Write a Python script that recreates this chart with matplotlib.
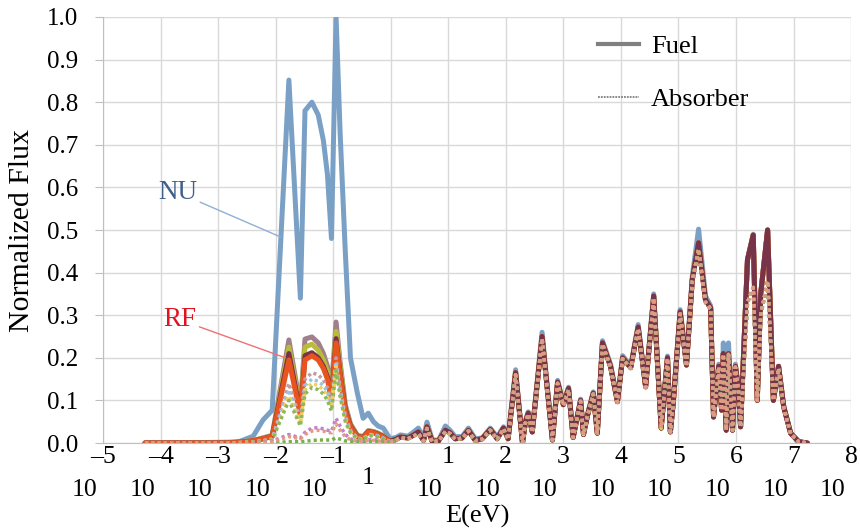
import matplotlib
matplotlib.use("Agg")
import matplotlib.pyplot as plt
from matplotlib.lines import Line2D

plt.rcParams['font.family'] = ['Liberation Serif', 'DejaVu Serif']

# log10(E) grid, thermal part and epithermal/fast part
E_THERMAL = [-4.27, -3.31, -2.79, -2.62, -2.39, -2.22, -2.06, -1.77, -1.57, -1.49,
             -1.37, -1.26, -1.17, -1.10, -1.03, -0.95, -0.88, -0.79, -0.70, -0.58,
             -0.48, -0.39, -0.30, -0.22, -0.13, -0.01]
E_FAST = [0.08, 0.17, 0.30, 0.39, 0.48, 0.57, 0.63, 0.72, 0.83, 0.95,
          1.03, 1.12, 1.24, 1.35, 1.47, 1.59, 1.73, 1.85, 1.96, 2.04,
          2.17, 2.29, 2.34, 2.39, 2.46, 2.63, 2.81, 2.90, 3.00, 3.09,
          3.17, 3.30, 3.35, 3.42, 3.52, 3.59, 3.68, 3.82, 3.94, 4.03,
          4.17, 4.30, 4.43, 4.57, 4.70, 4.81, 4.86, 4.91, 5.03, 5.14,
          5.24, 5.35, 5.47, 5.56, 5.61, 5.70, 5.75, 5.78, 5.83, 5.87,
          5.94, 5.99, 6.04, 6.08, 6.20, 6.30, 6.37, 6.43, 6.55, 6.65,
          6.74, 6.83, 6.95, 7.09, 7.24]

# NU (fuel)
NU_THERMAL = [0.0, 0.001, 0.002, 0.004, 0.016, 0.054, 0.077, 0.852, 0.34, 0.78,
              0.80, 0.77, 0.71, 0.63, 0.48, 1.0, 0.73, 0.45, 0.2, 0.117,
              0.058, 0.07, 0.05, 0.04, 0.035, 0.01]
NU_FAST = [0.012, 0.019, 0.016, 0.025, 0.035, 0.012, 0.049, 0.008, 0.006, 0.04,
           0.03, 0.015, 0.015, 0.035, 0.01, 0.012, 0.035, 0.014, 0.038, 0.014,
           0.172, 0.002, 0.052, 0.073, 0.028, 0.26, 0.008, 0.147, 0.094, 0.131,
           0.014, 0.103, 0.022, 0.068, 0.12, 0.025, 0.24, 0.185, 0.1, 0.205,
           0.18, 0.278, 0.136, 0.35, 0.037, 0.204, 0.028, 0.097, 0.313, 0.188,
           0.39, 0.502, 0.345, 0.322, 0.064, 0.185, 0.08, 0.235, 0.032, 0.235,
           0.032, 0.185, 0.133, 0.04, 0.432, 0.49, 0.1, 0.352, 0.5, 0.1,
           0.18, 0.085, 0.023, 0.003, 0.0]

# RF fuel curves, thermal part
RF_MAUVE = [0, 0, 0, 0.002, 0.006, 0.012, 0.018, 0.242, 0.085, 0.244,
            0.249, 0.235, 0.21, 0.18, 0.125, 0.284, 0.19, 0.09, 0.045, 0.018,
            0.015, 0.029, 0.027, 0.023, 0.017, 0.005]
RF_OLIVE = [0, 0, 0, 0.002, 0.006, 0.011, 0.017, 0.225, 0.078, 0.225,
            0.232, 0.218, 0.195, 0.168, 0.115, 0.262, 0.18, 0.085, 0.042, 0.017,
            0.014, 0.028, 0.026, 0.022, 0.016, 0.004]
RF_ORANGE = [0, 0, 0, 0.002, 0.005, 0.01, 0.015, 0.195, 0.065, 0.195,
             0.205, 0.195, 0.175, 0.15, 0.1, 0.235, 0.16, 0.075, 0.038, 0.015,
             0.012, 0.026, 0.024, 0.02, 0.014, 0.003]
RF_PLUM = [0, 0, 0, 0.002, 0.005, 0.01, 0.016, 0.21, 0.07, 0.205,
           0.212, 0.2, 0.18, 0.155, 0.105, 0.245, 0.165, 0.08, 0.04, 0.016,
           0.013, 0.027, 0.025, 0.021, 0.015, 0.004]
# shared fast part of the RF fuel curves
RF_FAST = [0.008, 0.014, 0.012, 0.018, 0.026, 0.006, 0.038, 0.004, 0.005, 0.03,
           0.024, 0.01, 0.012, 0.03, 0.006, 0.01, 0.032, 0.01, 0.035, 0.01,
           0.165, 0.0, 0.049, 0.07, 0.026, 0.25, 0.007, 0.143, 0.09, 0.128,
           0.013, 0.1, 0.02, 0.065, 0.117, 0.023, 0.235, 0.18, 0.097, 0.2,
           0.177, 0.272, 0.132, 0.345, 0.035, 0.2, 0.026, 0.094, 0.308, 0.183,
           0.383, 0.47, 0.336, 0.317, 0.061, 0.18, 0.077, 0.21, 0.03, 0.21,
           0.03, 0.18, 0.13, 0.038, 0.43, 0.488, 0.1, 0.35, 0.5, 0.1,
           0.18, 0.085, 0.023, 0.003, 0.0]

# absorber curves, thermal part
AB_MAUVE = [0, 0, 0, 0.001, 0.003, 0.006, 0.01, 0.14, 0.055, 0.15,
            0.165, 0.16, 0.148, 0.13, 0.1, 0.2, 0.13, 0.065, 0.03, 0.012,
            0.01, 0.02, 0.02, 0.017, 0.012, 0.003]
AB_BLUE = [0, 0, 0, 0.001, 0.003, 0.005, 0.009, 0.125, 0.05, 0.135,
           0.15, 0.145, 0.135, 0.12, 0.09, 0.19, 0.12, 0.06, 0.028, 0.011,
           0.009, 0.019, 0.019, 0.016, 0.011, 0.003]
AB_YELLOW = [0, 0, 0, 0.001, 0.002, 0.005, 0.008, 0.11, 0.045, 0.125,
             0.14, 0.135, 0.125, 0.11, 0.085, 0.18, 0.115, 0.055, 0.026, 0.01,
             0.008, 0.018, 0.018, 0.015, 0.01, 0.003]
AB_GREEN = [0, 0, 0, 0.001, 0.002, 0.004, 0.007, 0.1, 0.04, 0.115,
            0.13, 0.125, 0.115, 0.1, 0.075, 0.17, 0.11, 0.05, 0.024, 0.01,
            0.008, 0.017, 0.017, 0.014, 0.01, 0.002]
AB_MAGENTA = [0, 0, 0, 0, 0.001, 0.002, 0.004, 0.02, 0.012, 0.025,
              0.035, 0.036, 0.033, 0.03, 0.028, 0.058, 0.04, 0.02, 0.01, 0.005,
              0.004, 0.008, 0.008, 0.007, 0.005, 0.001]
AB_LOWGREEN = [0, 0, 0, 0, 0, 0.001, 0.001, 0.003, 0.003, 0.004,
               0.006, 0.007, 0.007, 0.007, 0.007, 0.012, 0.009, 0.005, 0.003, 0.002,
               0.002, 0.003, 0.003, 0.003, 0.002, 0.001]
AB_PEACH = [0, 0, 0, 0, 0.001, 0.001, 0.003, 0.015, 0.01, 0.02,
            0.028, 0.03, 0.028, 0.025, 0.024, 0.045, 0.03, 0.015, 0.008, 0.004,
            0.003, 0.006, 0.006, 0.005, 0.004, 0.001]
# shared fast part of the absorber curves
AB_FAST = [0.006, 0.012, 0.01, 0.016, 0.022, 0.005, 0.034, 0.003, 0.004, 0.027,
           0.022, 0.009, 0.011, 0.028, 0.005, 0.009, 0.03, 0.009, 0.033, 0.009,
           0.16, 0.0, 0.047, 0.068, 0.025, 0.245, 0.007, 0.14, 0.088, 0.125,
           0.013, 0.098, 0.02, 0.064, 0.115, 0.023, 0.232, 0.178, 0.096, 0.198,
           0.175, 0.268, 0.13, 0.34, 0.035, 0.198, 0.026, 0.093, 0.303, 0.18,
           0.378, 0.455, 0.33, 0.315, 0.061, 0.178, 0.077, 0.208, 0.03, 0.208,
           0.03, 0.178, 0.128, 0.038, 0.33, 0.365, 0.1, 0.3, 0.38, 0.1,
           0.175, 0.083, 0.022, 0.003, 0.0]

# (thermal, fast, colour, zorder thermal part, zorder fast part)
fuel_series = [
    (NU_THERMAL, NU_FAST, '#7aa0c6', 2.0, 2.0),
    (RF_MAUVE, RF_FAST, '#a0808a', 2.1, 2.1),
    (RF_OLIVE, RF_FAST, '#bbbb3a', 2.2, 2.2),
    (RF_PLUM, RF_FAST, '#763349', 2.3, 2.5),
    (RF_ORANGE, RF_FAST, '#e8531f', 2.4, 2.3),
]
absorber_series = [
    (AB_MAUVE, '#c49a9c'),
    (AB_BLUE, '#9fc2e2'),
    (AB_YELLOW, '#f0cf5a'),
    (AB_GREEN, '#8cb85a'),
    (AB_MAGENTA, '#c27fd0'),
    (AB_LOWGREEN, '#77b04a'),
    (AB_PEACH, '#e29a84'),
]

fig = plt.figure(figsize=(8.6, 5.31), dpi=100, facecolor='white')
ax = fig.add_axes([0.1198, 0.1657, 0.8698, 0.8023])

e_th = [10 ** v for v in E_THERMAL + E_FAST[:1]]
e_fa = [10 ** v for v in E_THERMAL[-1:] + E_FAST]
for th, fa, col, z_th, z_fa in fuel_series:
    # thermal and fast parts stack differently in the original chart
    ax.plot(e_th, th + fa[:1], color=col, lw=3.6, zorder=z_th, solid_capstyle='round')
    ax.plot(e_fa, th[-1:] + fa, color=col, lw=3.6, zorder=z_fa, solid_capstyle='round')
dots = (0, (0.9, 0.9))
for th, col in absorber_series:
    ax.plot(e_th, th + AB_FAST[:1], color=col, lw=2.5, ls=dots, zorder=3)
    ax.plot(e_fa, th[-1:] + AB_FAST, color=col, lw=2.5, ls=dots, zorder=3)

ax.set_xscale('log')
ax.set_xlim(1e-5, 1e8)
ax.set_ylim(0, 1.0)
ax.set_xticks([10 ** k for k in range(-5, 9)])
ax.set_xticks([], minor=True)
ax.set_xticklabels([])
ax.set_yticks([i / 10 for i in range(11)])
ax.set_yticklabels(['%.1f' % (i / 10) for i in range(11)], fontsize=18)
ax.tick_params(axis='y', length=6, color='#bfbfbf', pad=12)
ax.tick_params(axis='x', length=0)
ax.grid(True, color='#d9d9d9', lw=1)
ax.set_axisbelow(True)
for s in ['top', 'right']:
    ax.spines[s].set_visible(False)
for s in ['left', 'bottom']:
    ax.spines[s].set_color('#bfbfbf')

# Excel-style log tick labels: exponent above, base below
xt = ax.get_xaxis_transform()
for k in range(-5, 9):
    if k == 0:
        ax.text(10 ** (k - 0.4), -0.082, '1', transform=xt, ha='center', va='center', fontsize=18.5)
        continue
    exp = ('\u2013%d' % -k) if k < 0 else '%d' % k
    ax.text(10 ** k, -0.033, exp, transform=xt, ha='center', va='center', fontsize=18.5)
    ax.text(10 ** (k - 0.32), -0.11, '10', transform=xt, ha='center', va='center', fontsize=18.5)

ax.set_xlabel('E(eV)', fontsize=19, va='center')
ax.xaxis.set_label_coords(0.5, -0.172)
ax.set_ylabel('Normalized Flux', fontsize=21.5, va='center')
ax.yaxis.set_label_coords(-0.108, 0.5)

ax.annotate('NU', xy=(10 ** -1.92, 0.484), xytext=(10 ** -3.70, 0.588),
            fontsize=19.5, color='#3f5f8c', ha='center', va='center',
            arrowprops=dict(arrowstyle='-', color='#8fb0d4', lw=1, shrinkA=0, shrinkB=0))
ax.annotate('RF', xy=(10 ** -1.83, 0.2), xytext=(10 ** -3.66, 0.289),
            fontsize=19.5, color='#e0141e', ha='center', va='center',
            arrowprops=dict(arrowstyle='-', color='#f07070', lw=1, shrinkA=0, shrinkB=0))

handles = [Line2D([], [], color='#808080', lw=3),
           Line2D([], [], color='#808080', lw=1.3, ls=(0, (1, 0.6)))]
ax.legend(handles, ['Fuel', 'Absorber'], loc='upper left', bbox_to_anchor=(0.662, 0.959),
          frameon=False, fontsize=19, handlelength=1.55, handletextpad=0.45,
          labelspacing=1.13, borderpad=0, borderaxespad=0)

fig.savefig('out.png', dpi=100)
